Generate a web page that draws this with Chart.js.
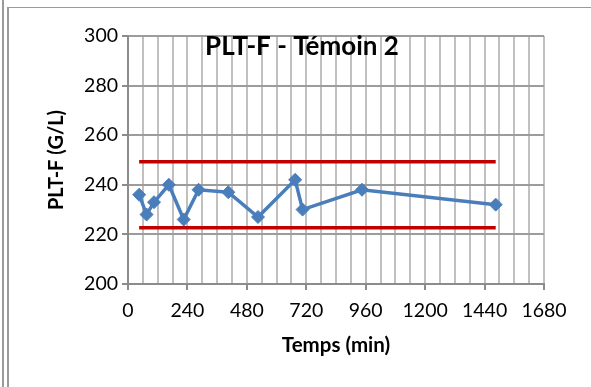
<!DOCTYPE html>
<html>
<head>
<meta charset="utf-8">
<script src="https://cdn.jsdelivr.net/npm/chart.js@4"></script>
<style>
  html, body { margin: 0; padding: 0; background: #fff; }
  #wrap { position: relative; width: 591px; height: 387px; overflow: hidden; }
  #graficoPlt { position: absolute; left: 0; top: 0; }
  .bord { position: absolute; background: #9a9a9a; }
</style>
</head>
<body>
<div id="wrap">
  <div class="bord" style="left:2px; top:0; width:2px; height:387px;"></div>
  <div class="bord" style="left:7px; top:7px; width:2px; height:380px;"></div>
  <div class="bord" style="left:7px; top:7px; width:584px; height:1px;"></div>
  <canvas id="graficoPlt" width="591" height="387"></canvas>
</div>
<script>
// temps de prélèvement (min) et valeurs PLT-F (G/L)
const temps = [45, 75, 105, 165, 225, 285, 405, 525, 675, 705, 945, 1485];
const pltF = [236, 228, 233, 240, 226, 238, 237, 227, 242, 230, 238, 232];

// limites haute et basse
const limitesTemps = [45, 1485];
const limiteHaute = [249.3, 249.3];
const limiteBasse = [222.7, 222.7];

const titre = 'PLT-F - Témoin 2';

function pontos(xs, ys) {
    return xs.map((x, i) => ({ x: x, y: ys[i] }));
}

// titre dessiné par-dessus la zone du graphique
const titrePlugin = {
    id: 'titreInterne',
    afterDraw(chart) {
        const ctx = chart.ctx;
        const area = chart.chartArea;
        ctx.save();
        ctx.font = 'bold 26px Lato';
        ctx.fillStyle = '#000';
        ctx.textAlign = 'center';
        ctx.textBaseline = 'alphabetic';
        ctx.fillText(titre, area.left + 174, area.top + 19);
        ctx.restore();
    }
};

const ctx = document.getElementById('graficoPlt').getContext('2d');
new Chart(ctx, {
    type: 'scatter',
    data: {
        datasets: [
            {
                data: pontos(limitesTemps, limiteHaute),
                showLine: true,
                borderColor: '#C00000',
                borderWidth: 3.5,
                pointRadius: 0,
                order: 2
            },
            {
                data: pontos(limitesTemps, limiteBasse),
                showLine: true,
                borderColor: '#C00000',
                borderWidth: 3.5,
                pointRadius: 0,
                order: 2
            },
            {
                data: pontos(temps, pltF),
                showLine: true,
                borderColor: '#4A7EBB',
                backgroundColor: '#4A7EBB',
                borderWidth: 3.5,
                pointStyle: 'rectRot',
                pointRadius: 6.5,
                pointBorderWidth: 1,
                order: 1
            }
        ]
    },
    options: {
        responsive: false,
        animation: false,
        layout: { padding: { left: 41, right: 47, top: 36, bottom: 25 } },
        plugins: {
            legend: { display: false },
            tooltip: { enabled: false }
        },
        scales: {
            x: {
                type: 'linear',
                min: 0,
                max: 1680,
                afterFit(scale) { scale.height = 78; },
                ticks: {
                    stepSize: 60,
                    autoSkip: false,
                    maxRotation: 0,
                    padding: 9,
                    color: '#000',
                    font: { family: 'Lato', size: 19.5 },
                    callback: v => (v % 240 === 0 ? v : '')
                },
                grid: {
                    color: '#c0c0c0',
                    lineWidth: 2,
                    tickLength: 6,
                    tickColor: c => (c.tick && c.tick.value % 240 === 0 ? '#8c8c8c' : 'rgba(0,0,0,0)'),
                    tickWidth: 2
                },
                border: { color: '#8c8c8c', width: 2 },
                title: {
                    display: true,
                    text: 'Temps (min)',
                    color: '#000',
                    font: { family: 'Lato', size: 20.5, weight: 'bold' }
                }
            },
            y: {
                min: 200,
                max: 300,
                afterFit(scale) { scale.width = 87; },
                ticks: {
                    stepSize: 20,
                    padding: 4,
                    color: '#000',
                    font: { family: 'Lato', size: 19.5 }
                },
                grid: {
                    color: '#9c9c9c',
                    lineWidth: 2,
                    tickLength: 6,
                    tickColor: '#8c8c8c',
                    tickWidth: 2
                },
                border: { color: '#8c8c8c', width: 2 },
                title: {
                    display: true,
                    text: 'PLT-F (G/L)',
                    color: '#000',
                    font: { family: 'Lato', size: 20, weight: 'bold' }
                }
            }
        }
    },
    plugins: [titrePlugin]
});
</script>
</body>
</html>
